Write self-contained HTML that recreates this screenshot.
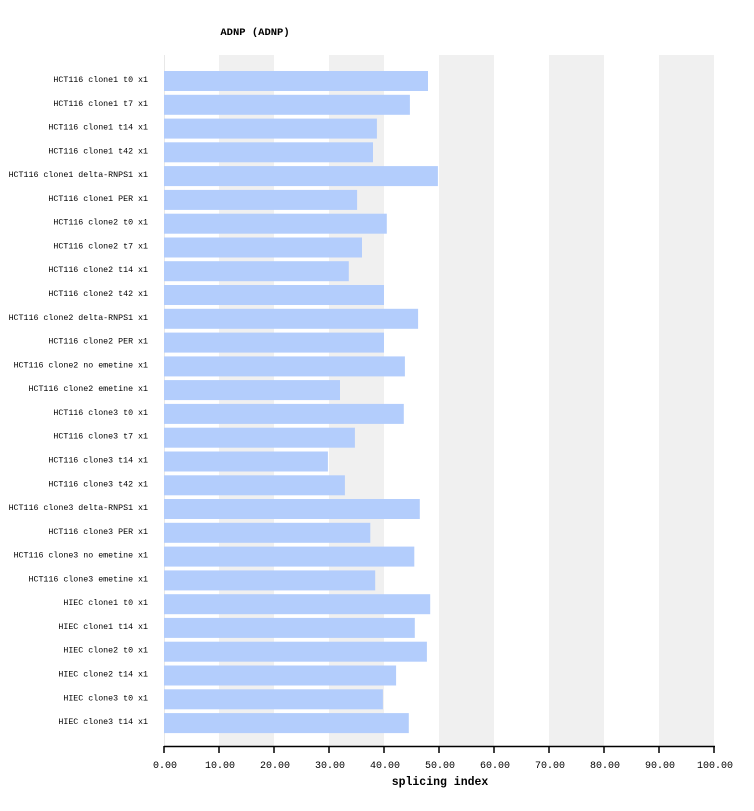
<!DOCTYPE html>
<html><head><meta charset="utf-8"><style>body{margin:0;background:#fff}</style></head><body>
<svg width="754" height="806" xmlns="http://www.w3.org/2000/svg" font-family="Liberation Mono, DejaVu Sans Mono, monospace">
<rect width="754" height="806" fill="#fff"/>
<g fill="#f0f0f0">
<rect x="219" y="55" width="55" height="691"/>
<rect x="329" y="55" width="55" height="691"/>
<rect x="439" y="55" width="55" height="691"/>
<rect x="549" y="55" width="55" height="691"/>
<rect x="659" y="55" width="55" height="691"/>
</g>
<line x1="164.5" y1="55" x2="164.5" y2="746" stroke="#e8e8e8"/>
<text x="255" y="35" font-size="10.5" font-weight="bold" text-anchor="middle">ADNP (ADNP)</text>
<g id="bars" fill="#b3cdfc"></g>
<g id="labels" font-size="8.3" text-anchor="end"></g>
<line x1="164" y1="746.5" x2="715" y2="746.5" stroke="#000" stroke-width="1.5"/>
<g id="ticks" stroke="#000" stroke-width="1.5"></g>
<g id="tl" font-size="10" text-anchor="middle"></g>
<text x="440" y="785" font-size="11.5" font-weight="bold" text-anchor="middle">splicing index</text>
<script>
var d=[["HCT116 clone1 t0 x1",48.0],["HCT116 clone1 t7 x1",44.7],["HCT116 clone1 t14 x1",38.7],["HCT116 clone1 t42 x1",38.0],["HCT116 clone1 delta-RNPS1 x1",49.8],["HCT116 clone1 PER x1",35.1],["HCT116 clone2 t0 x1",40.5],["HCT116 clone2 t7 x1",36.0],["HCT116 clone2 t14 x1",33.6],["HCT116 clone2 t42 x1",40.0],["HCT116 clone2 delta-RNPS1 x1",46.2],["HCT116 clone2 PER x1",40.0],["HCT116 clone2 no emetine x1",43.8],["HCT116 clone2 emetine x1",32.0],["HCT116 clone3 t0 x1",43.6],["HCT116 clone3 t7 x1",34.7],["HCT116 clone3 t14 x1",29.8],["HCT116 clone3 t42 x1",32.9],["HCT116 clone3 delta-RNPS1 x1",46.5],["HCT116 clone3 PER x1",37.5],["HCT116 clone3 no emetine x1",45.5],["HCT116 clone3 emetine x1",38.4],["HIEC clone1 t0 x1",48.4],["HIEC clone1 t14 x1",45.6],["HIEC clone2 t0 x1",47.8],["HIEC clone2 t14 x1",42.2],["HIEC clone3 t0 x1",39.8],["HIEC clone3 t14 x1",44.5]];
var NS="http://www.w3.org/2000/svg";
function el(t,a,p,tx){var e=document.createElementNS(NS,t);for(var k in a)e.setAttribute(k,a[k]);if(tx)e.textContent=tx;document.getElementById(p).appendChild(e);}
d.forEach(function(r,i){var y=71+i*23.78;
el("rect",{x:164,y:y.toFixed(1),width:(r[1]*5.5).toFixed(1),height:20},"bars");
el("text",{x:148,y:(y+11).toFixed(1)},"labels",r[0]);});
for(var i=0;i<=10;i++){var x=164+i*55;
el("line",{x1:x,y1:746,x2:x,y2:753},"ticks");
el("text",{x:x+1,y:768},"tl",(i*10).toFixed(2));}
</script>
</svg>
</body></html>
